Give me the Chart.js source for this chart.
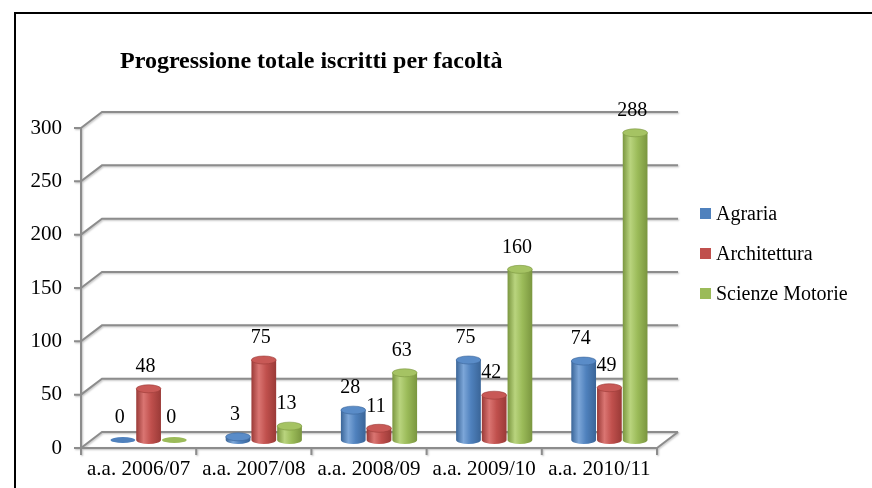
<!DOCTYPE html>
<html>
<head>
<meta charset="utf-8">
<script src="https://cdn.jsdelivr.net/npm/chart.js@4"></script>
<style>
  html, body { margin: 0; padding: 0; background: #fff; }
  #wrap { position: relative; width: 872px; height: 488px; overflow: hidden; }
  #frame { position: absolute; left: 14px; top: 12px; width: 900px; height: 520px;
           border-left: 2px solid #000; border-top: 2px solid #000; }
  #c { position: absolute; left: 0; top: 0; }
  #title { position: absolute; left: 120px; top: 47px; font: bold 24px 'Liberation Serif', serif; color: #000; white-space: nowrap; }
  .leg { position: absolute; left: 700px; font: 20px 'Liberation Serif', serif; color: #000; white-space: nowrap; }
  .leg i { display: inline-block; width: 11px; height: 11px; margin-right: 5px; vertical-align: 1px; }
</style>
</head>
<body>
<div id="wrap">
  <div id="frame"></div>
  <canvas id="c" width="872" height="488"></canvas>
  <div id="title">Progressione totale iscritti per facoltà</div>
  <div id="legend"></div>
</div>
<script>
/* ── DATA ── */
const categories     = ['a.a. 2006/07', 'a.a. 2007/08', 'a.a. 2008/09', 'a.a. 2009/10', 'a.a. 2010/11'];
const seriesNames    = ['Agraria', 'Architettura', 'Scienze Motorie'];
const agraria        = [0, 3, 28, 75, 74];
const architettura   = [48, 75, 11, 42, 49];
const scienzeMotorie = [0, 13, 63, 160, 288];
const yTicks         = [0, 50, 100, 150, 200, 250, 300];

/* ── THEME ── */
const COL = {
  blue:  { base: '#4F81BD', light: '#7CA6D8', dark: '#3A6598', top: '#5A8CC8' },
  red:   { base: '#C0504D', light: '#DA7572', dark: '#9A3A37', top: '#C85956' },
  green: { base: '#9BBB59', light: '#B9D47E', dark: '#7A963F', top: '#A5C363' },
  grid:  '#8C8C8C',
};
const SERIES_COL = [COL.blue, COL.red, COL.green];
const FONT = "'Liberation Serif', 'Times New Roman', serif";
const DEPTH_X = 21, DEPTH_Y = 16;   // back wall offset
const MID_X = 10, MID_Y = 8;        // bars sit halfway in depth

/* ── LEGEND (html) ── */
const legendEl = document.getElementById('legend');
seriesNames.forEach((name, i) => {
  const d = document.createElement('div');
  d.className = 'leg';
  d.style.top = (202 + i * 40) + 'px';
  d.innerHTML = '<i style="background:' + SERIES_COL[i].base + '"></i>' + name;
  legendEl.appendChild(d);
});

/* ── 3D walls / grid + cylinders ── */
const wallsPlugin = {
  id: 'walls3d',
  beforeDatasetsDraw(chart) {
    const { ctx, chartArea: a, scales } = chart;
    const y = scales.y;
    ctx.save();
    ctx.strokeStyle = COL.grid;
    ctx.lineWidth = 2;
    ctx.shadowColor = 'rgba(0,0,0,0.25)';
    ctx.shadowBlur = 2;
    ctx.shadowOffsetX = 1;
    ctx.shadowOffsetY = 1;
    ctx.beginPath();
    yTicks.forEach(v => {
      const py = y.getPixelForValue(v);
      ctx.moveTo(a.left - 7, py);
      ctx.lineTo(a.left, py);
      ctx.lineTo(a.left + DEPTH_X, py - DEPTH_Y);
      ctx.lineTo(a.right + DEPTH_X, py - DEPTH_Y);
    });
    // front axis + floor edge
    ctx.moveTo(a.left, a.top);
    ctx.lineTo(a.left, a.bottom + 7);
    ctx.moveTo(a.left, a.bottom);
    ctx.lineTo(a.right, a.bottom);
    ctx.lineTo(a.right + DEPTH_X, a.bottom - DEPTH_Y);
    // category ticks
    const w = (a.right - a.left) / categories.length;
    for (let i = 1; i <= categories.length; i++) {
      const px = a.left + i * w;
      ctx.moveTo(px, a.bottom);
      ctx.lineTo(px, a.bottom + 7);
    }
    ctx.stroke();
    ctx.restore();
  },
  afterDatasetsDraw(chart) {
    const ctx = chart.ctx;
    const values = [agraria, architettura, scienzeMotorie];
    ctx.save();
    chart.data.datasets.forEach((ds, di) => {
      const meta = chart.getDatasetMeta(di);
      const c = SERIES_COL[di];
      meta.data.forEach((el, i) => {
        const cx = el.x + MID_X;
        const top = el.y - MID_Y;
        const base = el.base - MID_Y;
        const rx = el.width / 2 - 0.5;
        const ry = 4;
        const g = ctx.createLinearGradient(cx - rx, 0, cx + rx, 0);
        g.addColorStop(0, c.dark);
        g.addColorStop(0.3, c.light);
        g.addColorStop(0.6, c.base);
        g.addColorStop(1, c.dark);
        if (values[di][i] > 0) {
          ctx.beginPath();
          ctx.moveTo(cx - rx, top);
          ctx.lineTo(cx - rx, base);
          ctx.ellipse(cx, base, rx, ry, 0, Math.PI, 0, true);
          ctx.lineTo(cx + rx, top);
          ctx.closePath();
          ctx.fillStyle = g;
          ctx.fill();
          ctx.beginPath();
          ctx.ellipse(cx, top, rx, ry, 0, 0, Math.PI * 2);
          ctx.fillStyle = c.top;
          ctx.fill();
          ctx.strokeStyle = c.dark;
          ctx.lineWidth = 0.6;
          ctx.stroke();
        } else {
          ctx.beginPath();
          ctx.ellipse(cx, base, rx, ry - 1, 0, 0, Math.PI * 2);
          ctx.fillStyle = c.base;
          ctx.fill();
        }
        // value label
        ctx.fillStyle = '#000';
        ctx.font = '20px ' + FONT;
        ctx.textAlign = 'center';
        ctx.textBaseline = 'middle';
        ctx.fillText(String(values[di][i]), cx - 3, top - 22);
      });
    });
    ctx.restore();
  },
};

new Chart(document.getElementById('c'), {
  type: 'bar',
  data: {
    labels: categories,
    datasets: [agraria, architettura, scienzeMotorie].map((d, i) => ({
      label: seriesNames[i],
      data: d,
      backgroundColor: 'rgba(0,0,0,0)',
      borderWidth: 0,
      categoryPercentage: 0.67,
      barPercentage: 1,
    })),
  },
  options: {
    responsive: false,
    animation: false,
    devicePixelRatio: 1,
    layout: { padding: { top: 128, right: 215, left: 0, bottom: 0 } },
    plugins: { legend: { display: false }, tooltip: { enabled: false }, title: { display: false } },
    scales: {
      x: {
        grid: { display: false, drawTicks: false },
        border: { display: false },
        ticks: { color: '#000', font: { family: FONT, size: 21 }, padding: 9, maxRotation: 0, autoSkip: false },
        afterFit: s => { s.height = 40; },
      },
      y: {
        min: 0, max: 300,
        afterBuildTicks: s => { s.ticks = yTicks.map(v => ({ value: v })); },
        grid: { display: false, drawTicks: false },
        border: { display: false },
        ticks: { color: '#000', font: { family: FONT, size: 21 }, padding: 19 },
        afterFit: s => { s.width = 81; },
      },
    },
  },
  plugins: [wallsPlugin],
});
</script>
</body>
</html>
